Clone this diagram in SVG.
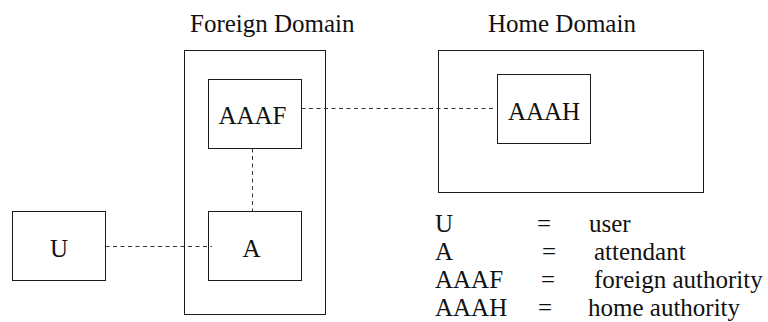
<svg xmlns="http://www.w3.org/2000/svg" width="768" height="322" viewBox="0 0 768 322">
  <style>
    .box { fill: none; stroke: #1a1a1a; stroke-width: 1; }
    .link { fill: none; stroke: #333; stroke-width: 1; stroke-dasharray: 4 3.5; }
    text { font-family: "Liberation Serif", "Times New Roman", serif; font-size: 25px; fill: #111; }
    .mid { text-anchor: middle; }
  </style>
  <rect width="768" height="322" fill="#fff"/>

  <!-- domains -->
  <g id="foreign-domain">
    <rect class="box" x="184.5" y="50.5" width="141" height="264"/>
    <text x="190" y="31.5">Foreign Domain</text>
  </g>
  <g id="home-domain">
    <rect class="box" x="438.5" y="50.5" width="265" height="142"/>
    <text x="488" y="31.5">Home Domain</text>
  </g>

  <!-- connectors -->
  <g id="connectors">
    <line class="link" x1="301.5" y1="108.5" x2="494" y2="108.5"/>
    <line class="link" x1="252.5" y1="148.5" x2="252.5" y2="211.5"/>
    <line class="link" x1="105.5" y1="246.5" x2="212" y2="246.5"/>
  </g>

  <!-- nodes -->
  <g id="node-AAAF">
    <rect class="box" x="208.5" y="79.5" width="93" height="69"/>
    <text class="mid" x="252.5" y="124">AAAF</text>
  </g>
  <g id="node-AAAH">
    <rect class="box" x="497.5" y="74.5" width="93" height="69"/>
    <text class="mid" x="544" y="119.5">AAAH</text>
  </g>
  <g id="node-A">
    <rect class="box" x="208.5" y="211.5" width="93" height="69"/>
    <text class="mid" x="251.5" y="256.5">A</text>
  </g>
  <g id="node-U">
    <rect class="box" x="12.5" y="211.5" width="93" height="69"/>
    <text class="mid" x="59" y="256.5">U</text>
  </g>

  <!-- legend -->
  <g id="legend">
    <text x="435" y="231.5">U</text>
    <text x="537" y="231.5">=</text>
    <text x="589" y="231.5">user</text>
    <text x="435" y="260">A</text>
    <text x="542" y="260">=</text>
    <text x="594" y="260">attendant</text>
    <text x="435" y="288.3">AAAF</text>
    <text x="541" y="288.3">=</text>
    <text x="594" y="288.3">foreign authority</text>
    <text x="435" y="316">AAAH</text>
    <text x="538" y="316">=</text>
    <text x="588" y="316">home authority</text>
  </g>
</svg>
